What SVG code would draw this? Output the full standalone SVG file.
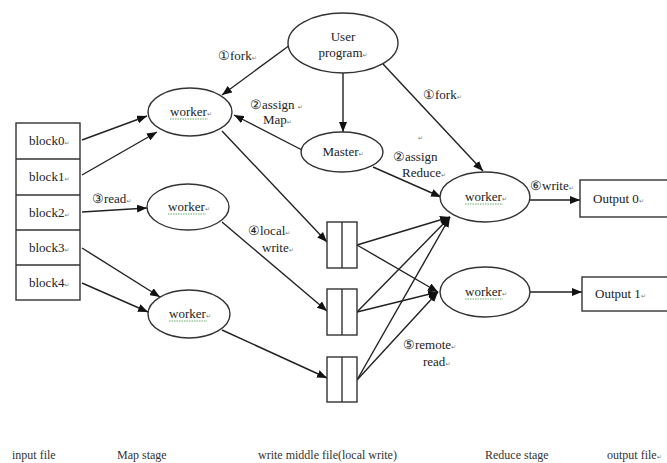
<svg xmlns="http://www.w3.org/2000/svg" width="667" height="463" viewBox="0 0 667 463">
<style>
.n{fill:#fff;stroke:#333;stroke-width:1.4}
.c line{stroke:#222;stroke-width:1.4}
.a{marker-end:url(#ar)}
text{font-family:"Liberation Serif","Times New Roman",serif;font-size:13px;fill:#222}
.m{text-anchor:middle}
.r{font-family:"DejaVu Sans",sans-serif;font-size:6px;fill:#777}
.b{font-size:12px;fill:#333}
.u{stroke:#6a6;stroke-width:1;stroke-dasharray:1.5 1}
</style>
<defs>
<marker id="ar" markerUnits="userSpaceOnUse" markerWidth="10" markerHeight="8" refX="10" refY="4" orient="auto">
<path d="M0,0 L10,4 L0,8 z" fill="#111"/>
</marker>
</defs>
<rect width="667" height="463" fill="#fff"/>

<g class="c">
<line class="a" x1="82" y1="140" x2="147" y2="116"/>
<line class="a" x1="82" y1="175" x2="157" y2="132"/>
<line class="a" x1="82" y1="212" x2="147" y2="208"/>
<line class="a" x1="82" y1="248" x2="160" y2="297"/>
<line class="a" x1="82" y1="283" x2="148" y2="312"/>
<line class="a" x1="290" y1="45" x2="222" y2="95"/>
<line class="a" x1="343" y1="73" x2="343" y2="132"/>
<line class="a" x1="383" y1="64" x2="483" y2="171"/>
<line class="a" x1="302" y1="150" x2="234" y2="115"/>
<line class="a" x1="373" y1="167" x2="441" y2="197"/>
<line class="a" x1="222" y1="131" x2="327" y2="242"/>
<line class="a" x1="222" y1="222" x2="327" y2="311"/>
<line class="a" x1="222" y1="330" x2="327" y2="378"/>
<line class="a" x1="357" y1="245" x2="450" y2="217"/>
<line class="a" x1="357" y1="245" x2="438" y2="292"/>
<line class="a" x1="357" y1="312" x2="450" y2="217"/>
<line class="a" x1="357" y1="312" x2="438" y2="292"/>
<line class="a" x1="357" y1="380" x2="450" y2="217"/>
<line class="a" x1="357" y1="380" x2="438" y2="292"/>
<line class="a" x1="530" y1="200" x2="580" y2="200"/>
<line class="a" x1="530" y1="292" x2="582" y2="292"/>
</g>

<g id="input">
<rect class="n" x="16" y="123" width="64" height="177"/>
<line x1="16" y1="159" x2="80" y2="159" stroke="#333" stroke-width="1.4"/>
<line x1="16" y1="195" x2="80" y2="195" stroke="#333" stroke-width="1.4"/>
<line x1="16" y1="230" x2="80" y2="230" stroke="#333" stroke-width="1.4"/>
<line x1="16" y1="265" x2="80" y2="265" stroke="#333" stroke-width="1.4"/>
<text x="29" y="145">block0<tspan class="r">↵</tspan></text>
<text x="29" y="181">block1<tspan class="r">↵</tspan></text>
<text x="29" y="217">block2<tspan class="r">↵</tspan></text>
<text x="29" y="252">block3<tspan class="r">↵</tspan></text>
<text x="29" y="287">block4<tspan class="r">↵</tspan></text>
</g>

<g id="user">
<ellipse class="n" cx="343" cy="43" rx="55" ry="30"/>
<text class="m" x="343" y="41">User</text>
<text class="m" x="343" y="57">program<tspan class="r">↵</tspan></text>
</g>

<g id="master">
<ellipse class="n" cx="342" cy="152" rx="41" ry="20"/>
<text class="m" x="343" y="156">Master<tspan class="r">↵</tspan></text>
</g>

<g id="worker1">
<ellipse class="n" cx="190" cy="112" rx="42" ry="24"/>
<text class="m" x="191" y="116">worker<tspan class="r">↵</tspan></text>
<line class="u" x1="170" y1="119" x2="208" y2="119"/>
</g>
<g id="worker2">
<ellipse class="n" cx="188" cy="207" rx="41" ry="23"/>
<text class="m" x="189" y="211">worker<tspan class="r">↵</tspan></text>
<line class="u" x1="168" y1="214" x2="206" y2="214"/>
</g>
<g id="worker3">
<ellipse class="n" cx="189" cy="314" rx="41" ry="24"/>
<text class="m" x="190" y="318">worker<tspan class="r">↵</tspan></text>
<line class="u" x1="169" y1="321" x2="207" y2="321"/>
</g>

<g id="file1">
<rect class="n" x="327" y="222" width="30" height="46"/>
<line x1="342" y1="222" x2="342" y2="268" stroke="#333" stroke-width="1.4"/>
</g>
<g id="file2">
<rect class="n" x="327" y="289" width="30" height="46"/>
<line x1="342" y1="289" x2="342" y2="335" stroke="#333" stroke-width="1.4"/>
</g>
<g id="file3">
<rect class="n" x="327" y="357" width="30" height="45"/>
<line x1="342" y1="357" x2="342" y2="402" stroke="#333" stroke-width="1.4"/>
</g>

<g id="rworker1">
<ellipse class="n" cx="485" cy="197" rx="45" ry="25"/>
<text class="m" x="486" y="201">worker<tspan class="r">↵</tspan></text>
<line class="u" x1="465" y1="204" x2="503" y2="204"/>
</g>
<g id="rworker2">
<ellipse class="n" cx="485" cy="292" rx="45" ry="25"/>
<text class="m" x="486" y="296">worker<tspan class="r">↵</tspan></text>
<line class="u" x1="465" y1="299" x2="503" y2="299"/>
</g>

<g id="output0">
<rect class="n" x="580" y="180" width="90" height="37"/>
<text x="593" y="203">Output 0<tspan class="r">↵</tspan></text>
</g>
<g id="output1">
<rect class="n" x="582" y="277" width="90" height="34"/>
<text x="595" y="298">Output 1<tspan class="r">↵</tspan></text>
</g>

<g id="labels">
<text x="218" y="60">①fork<tspan class="r">↵</tspan></text>
<text x="250" y="109">②assign <tspan class="r">↵</tspan></text>
<text x="263" y="124">Map<tspan class="r">↵</tspan></text>
<text x="423" y="99">①fork<tspan class="r">↵</tspan></text>
<text x="418" y="140" class="r">↵</text>
<text x="393" y="161">②assign</text>
<text x="402" y="177">Reduce<tspan class="r">↵</tspan></text>
<text x="530" y="190">⑥write<tspan class="r">↵</tspan></text>
<text x="92" y="203">③read<tspan class="r">↵</tspan></text>
<text x="248" y="235">④local<tspan class="r">↵</tspan></text>
<text x="262" y="252">write<tspan class="r">↵</tspan></text>
<text x="403" y="349">⑤remote<tspan class="r">↵</tspan></text>
<text x="423" y="366">read<tspan class="r">↵</tspan></text>
</g>

<g id="stages">
<text class="b" x="12" y="459">input file</text>
<text class="b" x="117" y="459">Map stage</text>
<text class="b" x="258" y="459">write middle file(local write)</text>
<text class="b" x="485" y="459">Reduce stage</text>
<text class="b" x="607" y="459">output file<tspan class="r">↵</tspan></text>
</g>
</svg>
